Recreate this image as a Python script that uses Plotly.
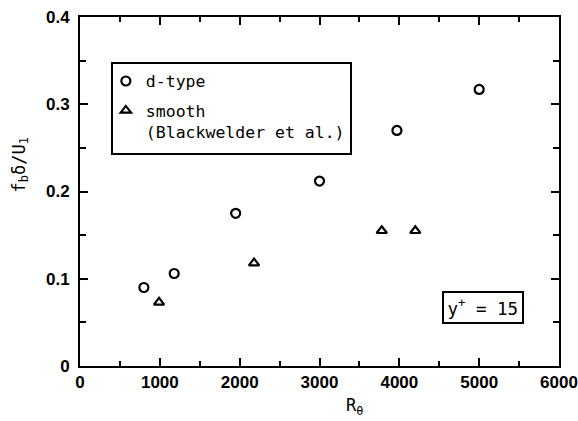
import plotly.graph_objects as go

dtype_x = [800, 1180, 1950, 3000, 3970, 5000]
dtype_y = [0.090, 0.106, 0.175, 0.212, 0.270, 0.317]
smooth_x = [990, 2180, 3780, 4200]
smooth_y = [0.073, 0.118, 0.155, 0.155]

x_ticks = [0, 1000, 2000, 3000, 4000, 5000, 6000]
y_ticks = [0, 0.1, 0.2, 0.3, 0.4]
y_ticktext = ["0", "0.1", "0.2", "0.3", "0.4"]

mono = "DejaVu Sans Mono"
fig = go.Figure()
fig.add_trace(go.Scatter(x=dtype_x, y=dtype_y, mode="markers", name="d-type", legendgroup="a",
                         marker=dict(symbol="circle-open", size=9, color="black", line=dict(width=2.2))))
fig.add_trace(go.Scatter(x=smooth_x, y=smooth_y, mode="markers", name="smooth<br>(Blackwelder et al.)",
                         legendgroup="b",
                         marker=dict(symbol="triangle-up-open", size=9, color="black", line=dict(width=2.2))))

axis_common = dict(showgrid=False, zeroline=False, showline=True, linecolor="black", linewidth=2,
                   ticks="inside", mirror="ticks", tickcolor="black", tickwidth=2,
                   ticklabeloverflow="allow", automargin=False,
                   tickfont=dict(family="Liberation Sans", size=17, color="black", weight="bold"))
fig.update_xaxes(range=[0, 6000], tickvals=x_ticks, ticklen=8,
                 minor=dict(dtick=500, tick0=0, ticks="inside", ticklen=5, tickcolor="black", tickwidth=2),
                 **axis_common)
fig.update_yaxes(range=[0, 0.4], tickvals=y_ticks, ticktext=y_ticktext, ticklen=8,
                 ticklabelstandoff=5,
                 minor=dict(dtick=0.05, tick0=0, ticks="inside", ticklen=6, tickcolor="black", tickwidth=2),
                 **axis_common)

fig.update_layout(
    width=578, height=421,
    margin=dict(l=80, r=19, t=17, b=55, autoexpand=False),
    paper_bgcolor="white", plot_bgcolor="white",
    showlegend=True,
    legend=dict(x=0.054, y=0.866, xanchor="left", yanchor="top",
                borderwidth=0, bgcolor="rgba(0,0,0,0)", valign="top",
                font=dict(family=mono, size=16.5, color="black"),
                traceorder="grouped", tracegroupgap=5,
                itemwidth=30),
    shapes=[dict(type="rect", xref="paper", yref="paper", x0=0.0668, x1=0.5658, y0=0.6075, y1=0.868,
                 line=dict(color="black", width=2), layer="below")],
    annotations=[
        dict(xref="paper", yref="paper", x=0.841, y=0.169, xanchor="center", yanchor="middle",
             text="y<sup>+</sup> = 15", showarrow=False,
             font=dict(family=mono, size=17.5, color="black"),
             bordercolor="black", borderwidth=2, borderpad=3.5, bgcolor="white"),
        dict(xref="paper", yref="paper", x=0.574, y=-0.115, xanchor="center", yanchor="middle",
             text="R<sub>θ</sub>", showarrow=False,
             font=dict(family=mono, size=17, color="black")),
        dict(xref="paper", yref="paper", x=-0.125, y=0.575, xanchor="center", yanchor="middle",
             text="f<sub>b</sub>δ/U<sub>1</sub>", showarrow=False, textangle=-90,
             font=dict(family=mono, size=17, color="black")),
    ],
)

fig.write_html("out.html")
